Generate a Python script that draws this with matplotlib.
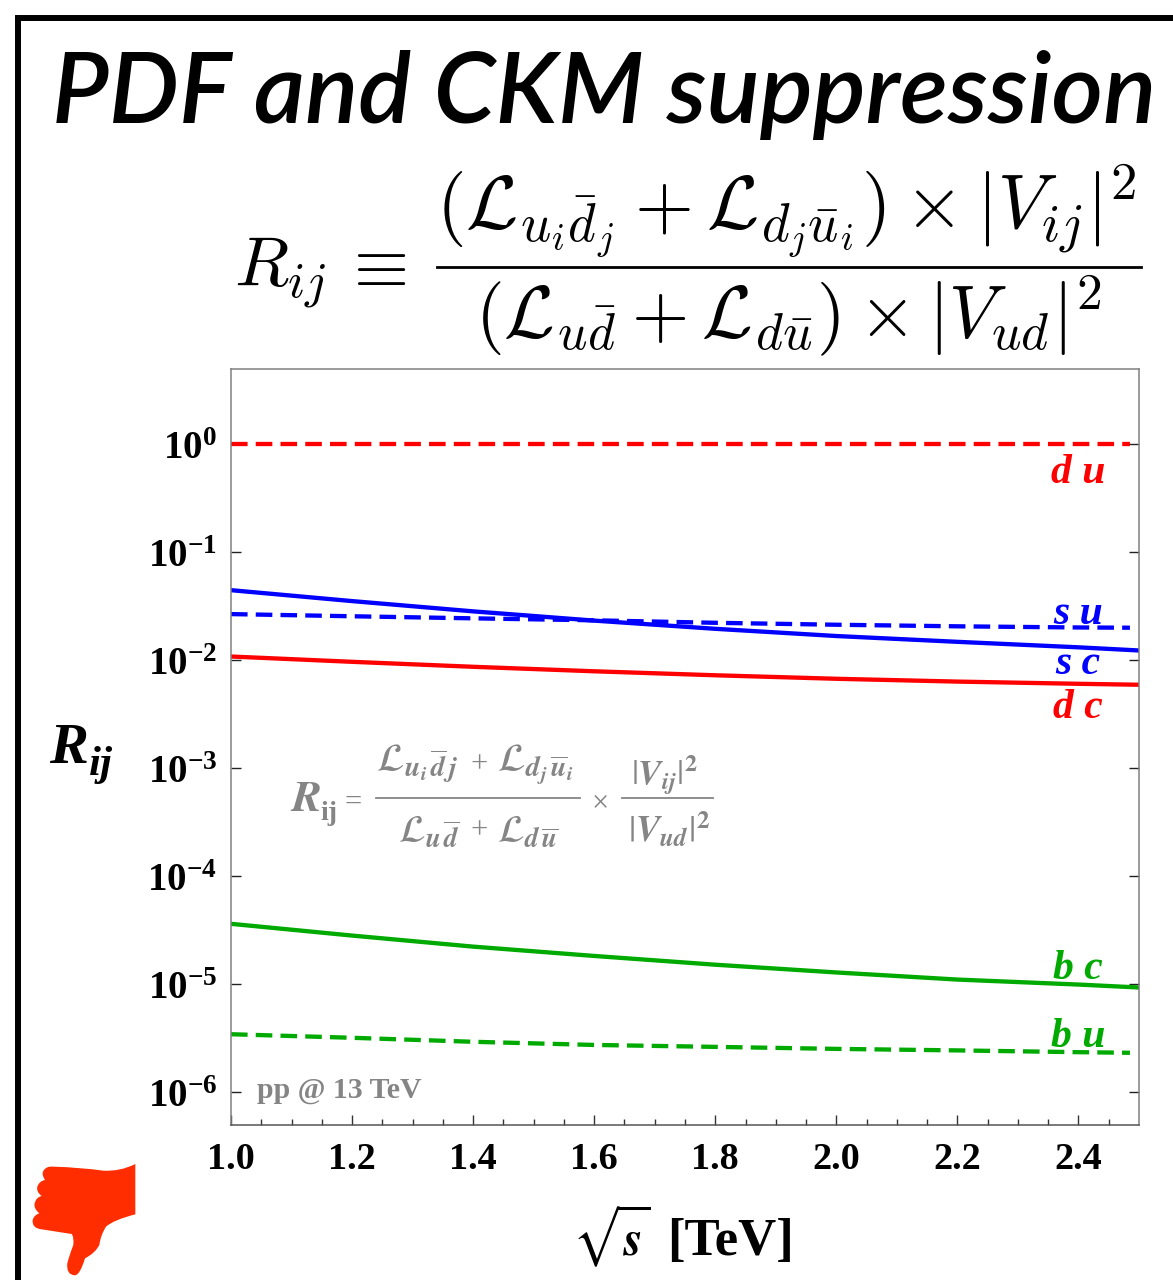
import matplotlib
matplotlib.use("Agg")
import matplotlib.pyplot as plt
from matplotlib.patches import PathPatch
from matplotlib.path import Path
from matplotlib.ticker import FixedLocator, NullFormatter

plt.rcParams['mathtext.fontset'] = 'custom'
plt.rcParams['mathtext.rm'] = 'Liberation Serif:bold'
plt.rcParams['mathtext.bf'] = 'Liberation Serif:bold'
plt.rcParams['mathtext.it'] = 'Liberation Serif:bold:italic'
SERIF = 'Liberation Serif'

# values
x_solid = [1.0, 1.2, 1.4, 1.6, 1.8, 2.0, 2.2, 2.4, 2.5]
x_dash = [1.0, 1.2, 1.4, 1.6, 1.8, 2.0, 2.2, 2.4, 2.485]

du = [1.0, 1.0, 1.0, 1.0, 1.0, 1.0, 1.0, 1.0, 1.0]
su = [0.0266, 0.0254, 0.0243, 0.0233, 0.0221, 0.0212, 0.0205, 0.0200, 0.0199]
sc = [0.0443, 0.0351, 0.0282, 0.02315, 0.01944, 0.01667, 0.01473, 0.01310, 0.01225]
dc = [0.01077, 0.00962, 0.00865, 0.00786, 0.00722, 0.00670, 0.00631, 0.00602, 0.00590]
bc = [3.61e-5, 2.81e-5, 2.22e-5, 1.82e-5, 1.51e-5, 1.28e-5, 1.10e-5, 9.89e-6, 9.29e-6]
bu = [3.43e-6, 3.18e-6, 2.92e-6, 2.73e-6, 2.62e-6, 2.51e-6, 2.43e-6, 2.34e-6, 2.31e-6]

x_major = [1.0, 1.2, 1.4, 1.6, 1.8, 2.0, 2.2, 2.4]
x_minor = [1.05, 1.1, 1.15, 1.25, 1.3, 1.35, 1.45, 1.5, 1.55, 1.65, 1.7, 1.75, 1.85, 1.9, 1.95,
           2.05, 2.1, 2.15, 2.25, 2.3, 2.35, 2.45]
y_major = [1e-6, 1e-5, 1e-4, 1e-3, 1e-2, 1e-1, 1e0]
y_labels = ['$\\mathbf{10^{-6}}$', '$\\mathbf{10^{-5}}$', '$\\mathbf{10^{-4}}$', '$\\mathbf{10^{-3}}$',
            '$\\mathbf{10^{-2}}$', '$\\mathbf{10^{-1}}$', '$\\mathbf{10^{0}}$']

RED = '#ff0000'
BLUE = '#0000ff'
GREEN = '#00aa00'
GRAY = '#858585'

W, H = 1173, 1280
fig = plt.figure(figsize=(W / 100, H / 100), dpi=100)
ax = fig.add_axes([231 / W, 1 - 1125 / H, 908 / W, 756 / H])

dash = (0, (3.85, 1.9))
lw = 3.1
ax.semilogy(x_dash, du, color=RED, lw=lw, linestyle=dash, dash_capstyle='butt')
ax.semilogy(x_dash, su, color=BLUE, lw=lw, linestyle=dash, dash_capstyle='butt')
ax.semilogy(x_dash, bu, color=GREEN, lw=lw, linestyle=dash, dash_capstyle='butt')
ax.semilogy(x_solid, sc, color=BLUE, lw=lw)
ax.semilogy(x_solid, dc, color=RED, lw=lw)
ax.semilogy(x_solid, bc, color=GREEN, lw=lw)

ax.set_xlim(1.0, 2.5)
ax.set_ylim(10 ** -6.305, 10 ** 0.694)

ax.xaxis.set_major_locator(FixedLocator(x_major))
ax.xaxis.set_minor_locator(FixedLocator(x_minor))
ax.xaxis.set_minor_formatter(NullFormatter())
ax.yaxis.set_major_locator(FixedLocator(y_major))
ax.yaxis.set_minor_locator(FixedLocator([]))
ax.set_xticklabels(['%.1f' % v for v in x_major], fontfamily=SERIF, fontweight='bold', fontsize=27.5)
ax.set_yticklabels(y_labels, fontsize=28)
ax.tick_params(axis='x', which='major', direction='in', length=7, width=1, color='#333333', pad=12)
ax.tick_params(axis='x', which='minor', direction='in', length=4, width=1, color='#333333')
ax.tick_params(axis='y', which='major', direction='in', length=7, width=1, color='#222222', pad=10,
               left=True, right=True)
for side in ['top', 'left', 'right']:
    ax.spines[side].set_color('#808080')
    ax.spines[side].set_linewidth(1.1)
ax.spines['bottom'].set_color('#555555')
ax.spines['bottom'].set_linewidth(1.1)

# overlay in picture pixels for everything outside the plot
ov = fig.add_axes([0, 0, 1, 1], facecolor='none')
ov.set_xlim(0, W)
ov.set_ylim(H, 0)
ov.axis('off')

ov.plot([18, 18, W], [H, 18, 18], color='black', lw=4.3, solid_joinstyle='miter')

ov.text(52, 123, 'PDF and CKM suppression', fontfamily='Lato', fontstyle='italic', fontweight='semibold',
        fontsize=71.4, ha='left', va='baseline', color='black')

# main definition
ov.text(234, 286, '$R_{ij}$', math_fontfamily='cm', fontsize=51, va='baseline')
ov.text(341, 286, '$\\equiv$', math_fontfamily='cm', fontsize=51, va='baseline')
ov.text(436, 228, '$(\\mathcal{L}_{u_i\\bar{d}_j} + \\mathcal{L}_{d_j\\bar{u}_i}) \\times |V_{ij}|^2$',
        math_fontfamily='cm', fontsize=54.5, va='baseline')
ov.plot([437, 1141], [267, 267], color='black', lw=2)
ov.text(475, 337, '$(\\mathcal{L}_{u\\bar{d}} + \\mathcal{L}_{d\\bar{u}}) \\times |V_{ud}|^2$',
        math_fontfamily='cm', fontsize=53, va='baseline')

# grey formula inside the plot
ov.text(290, 811, '$\\mathbfit{R}$', math_fontfamily='stix', fontsize=32, color=GRAY, va='baseline')
ov.text(320, 820, 'ij', fontfamily=SERIF, fontweight='bold', fontsize=20, color=GRAY, va='baseline')
ov.text(344, 811, '=', fontfamily=SERIF, fontsize=22, color=GRAY, va='baseline')
ov.text(376, 772, '$\\mathcal{L}_{\\mathbfit{u_i}\\,\\overline{\\mathbfit{d}}\\,\\mathbfit{j}}$',
        math_fontfamily='stix', fontsize=29, color=GRAY, va='baseline')
ov.text(470, 772, '+', fontfamily=SERIF, fontsize=22, color=GRAY, va='baseline')
ov.text(497, 772, '$\\mathcal{L}_{\\mathbfit{d_j}\\,\\overline{\\mathbfit{u}}\\mathbfit{_i}}$',
        math_fontfamily='stix', fontsize=29, color=GRAY, va='baseline')
ov.plot([376, 580], [798, 798], color=GRAY, lw=1.3)
ov.text(398, 842, '$\\mathcal{L}_{\\mathbfit{u}\\,\\overline{\\mathbfit{d}}}$',
        math_fontfamily='stix', fontsize=28, color=GRAY, va='baseline')
ov.text(470, 838, '+', fontfamily=SERIF, fontsize=22, color=GRAY, va='baseline')
ov.text(497, 842, '$\\mathcal{L}_{\\mathbfit{d}\\,\\overline{\\mathbfit{u}}}$',
        math_fontfamily='stix', fontsize=28, color=GRAY, va='baseline')
ov.text(592, 811, '×', fontfamily=SERIF, fontsize=22, color=GRAY, va='baseline')
ov.text(631, 785, '$|\\mathbfit{V_{ij}}|^{\\mathbf{2}}$', math_fontfamily='stix', fontsize=25, color=GRAY, va='baseline')
ov.plot([622, 713], [798, 798], color=GRAY, lw=1.3)
ov.text(628, 842, '$|\\mathbfit{V_{ud}}|^{\\mathbf{2}}$', math_fontfamily='stix', fontsize=26, color=GRAY, va='baseline')

ov.text(257, 1098, 'pp @ 13 TeV', fontfamily=SERIF, fontweight='bold', fontsize=21.5, color=GRAY, va='baseline')

# curve labels
label_kw = dict(fontfamily=SERIF, fontweight='bold', fontstyle='italic', fontsize=30, ha='center', va='baseline')
ov.text(1078, 483, 'd u', color=RED, **label_kw)
ov.text(1078, 624, 's u', color=BLUE, **label_kw)
ov.text(1078, 674, 's c', color=BLUE, **label_kw)
ov.text(1078, 718, 'd c', color=RED, **label_kw)
ov.text(1078, 979, 'b c', color=GREEN, **label_kw)
ov.text(1078, 1047, 'b u', color=GREEN, **label_kw)

# axis titles
ov.text(49, 763, 'R', fontfamily=SERIF, fontweight='bold', fontstyle='italic', fontsize=42, va='baseline')
ov.text(89, 775, 'ij', fontfamily=SERIF, fontweight='bold', fontstyle='italic', fontsize=31, va='baseline')
ov.text(572, 1255, '$\\sqrt{\\mathbfit{s}}$', math_fontfamily='stix', fontsize=35, va='baseline')
ov.text(667, 1255, '[TeV]', fontfamily=SERIF, fontweight='bold', fontsize=38, va='baseline')

# thumbs-down icon, outline traced in zoomed crop coordinates
outline = [
    (316, 132), (316, 283),
    (250, 300), (228, 320), (212, 345), (208, 375), (195, 400), (165, 415),
    (150, 465), (135, 466), (108, 465), (112, 430), (118, 405), (130, 375),
    (132, 350), (125, 342), (80, 335), (35, 328), (5, 325), (8, 300),
    (12, 285), (28, 280), (10, 265), (14, 250), (18, 232), (35, 228),
    (18, 215), (22, 200), (28, 183), (45, 180), (32, 160), (42, 150),
    (50, 138), (70, 140), (150, 142), (220, 152), (270, 155), (316, 132),
]
verts = [(30 + px / 3, 1120 + py / 3) for px, py in outline]
codes = [Path.MOVETO, Path.LINETO] + [Path.CURVE3] * (len(verts) - 2)
ov.add_patch(PathPatch(Path(verts, codes), facecolor='#ff2d00', edgecolor='none'))

fig.savefig('out.png', dpi=100)
